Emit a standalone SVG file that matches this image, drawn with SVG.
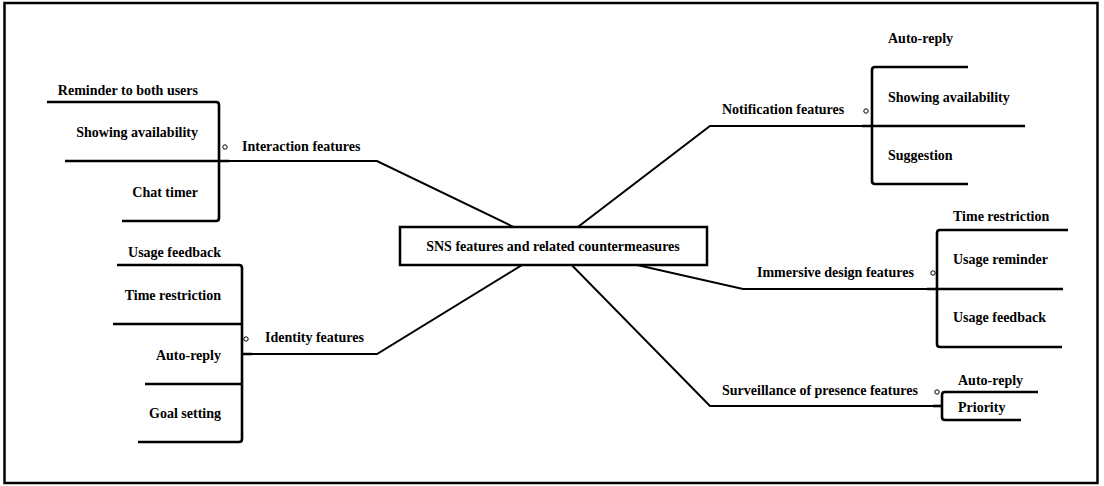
<svg xmlns="http://www.w3.org/2000/svg" width="1104" height="486" viewBox="0 0 1104 486">
<style>
text{font-family:"Liberation Serif","Times New Roman",serif;font-weight:bold;font-size:14px;fill:#000}
.r{text-anchor:end}
.c{text-anchor:middle}
.conn{stroke:#000;stroke-width:2;fill:none}
.br{stroke:#000;stroke-width:2.6;fill:none;stroke-linejoin:round}
.dot{stroke:#000;stroke-width:1;fill:#fff}
</style>
<rect x="4.5" y="3" width="1093" height="480" fill="#fff" stroke="#000" stroke-width="2.5"/>
<g id="connectors">
<path class="conn" d="M553,246 L377,161 L229,161"/>
<path class="conn" d="M553,246 L377,354 L252,354"/>
<path class="conn" d="M553,246 L710,126 L862,126"/>
<path class="conn" d="M553,246 L743,289 L927,289"/>
<path class="conn" d="M553,246 L710,406 L933,406"/>
</g>
<g id="center">
<rect x="400" y="227" width="307" height="38" fill="#fff" stroke="#000" stroke-width="2.5"/>
<text class="c" x="553" y="251">SNS features and related countermeasures</text>
</g>
<g id="interaction">
<path class="br" d="M47,102 H216 Q219,102 219,105 V218 Q219,221 216,221 H122"/>
<path class="br" d="M65,161 H229"/>
<circle class="dot" cx="225" cy="147" r="2.2"/>
<text x="242" y="151">Interaction features</text>
<text class="r" x="198" y="95">Reminder to both users</text>
<text class="r" x="198" y="137">Showing availability</text>
<text class="r" x="198" y="197">Chat timer</text>
</g>
<g id="identity">
<path class="br" d="M117,265 H239 Q242,265 242,268 V439 Q242,442 239,442 H138"/>
<path class="br" d="M113,324 H242 M145,384 H242 M242,354 H252"/>
<circle class="dot" cx="246" cy="339" r="2.2"/>
<text x="265" y="342">Identity features</text>
<text class="r" x="221" y="257">Usage feedback</text>
<text class="r" x="221" y="300">Time restriction</text>
<text class="r" x="221" y="360">Auto-reply</text>
<text class="r" x="221" y="418">Goal setting</text>
</g>
<g id="notification">
<path class="br" d="M968,67 H875 Q872,67 872,70 V181 Q872,184 875,184 H968"/>
<path class="br" d="M862,126 H1025"/>
<circle class="dot" cx="866" cy="111" r="2.2"/>
<text x="722" y="114">Notification features</text>
<text x="888" y="43">Auto-reply</text>
<text x="888" y="102">Showing availability</text>
<text x="888" y="160">Suggestion</text>
</g>
<g id="immersive">
<path class="br" d="M1068,230 H940 Q937,230 937,233 V344 Q937,347 940,347 H1062"/>
<path class="br" d="M927,289 H1063"/>
<circle class="dot" cx="933" cy="273" r="2.2"/>
<text x="757" y="277">Immersive design features</text>
<text x="953" y="221">Time restriction</text>
<text x="953" y="264">Usage reminder</text>
<text x="953" y="322">Usage feedback</text>
</g>
<g id="surveillance">
<path class="br" d="M1038,392 H945 Q942,392 942,395 V417 Q942,420 945,420 H1021"/>
<path class="br" d="M933,406 H942"/>
<circle class="dot" cx="937" cy="392" r="2.2"/>
<text x="722" y="395">Surveillance of presence features</text>
<text x="958" y="385">Auto-reply</text>
<text x="958" y="412">Priority</text>
</g>
</svg>
